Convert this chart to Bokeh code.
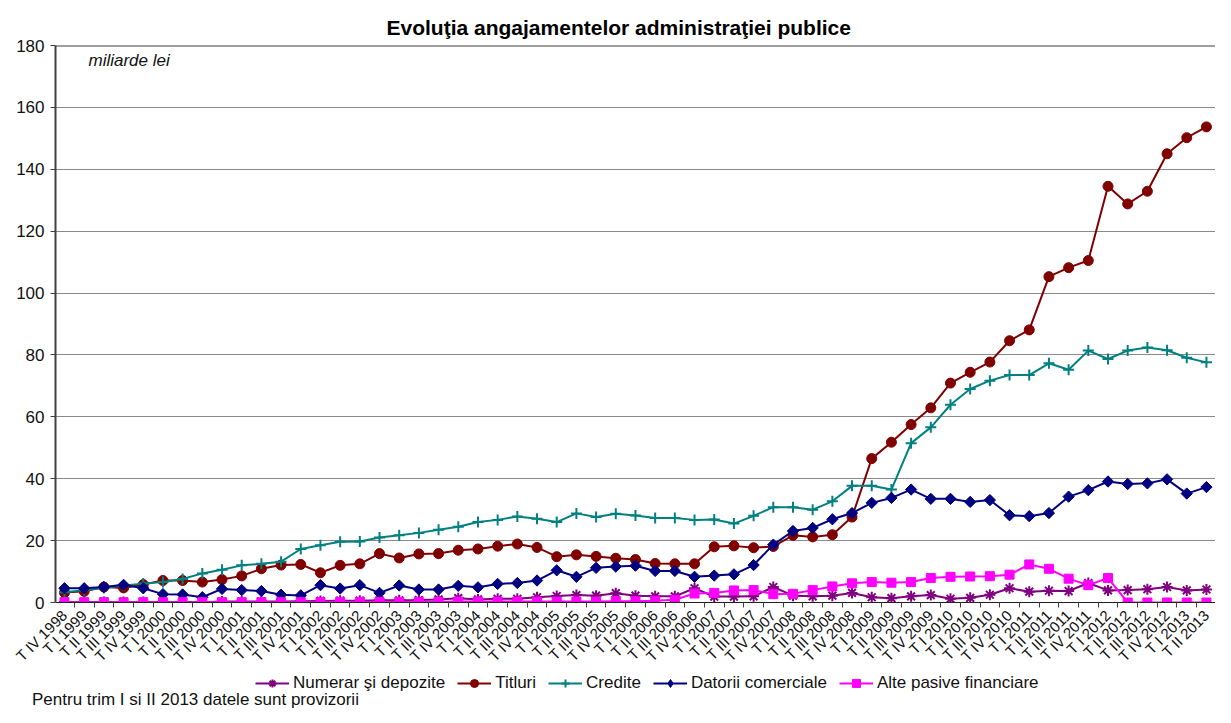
import math
from bokeh.plotting import figure
from bokeh.layouts import column
from bokeh.models import Range1d, FixedTicker, Label, Legend, LegendItem, Span, Div
from bokeh.embed import file_html
from bokeh.resources import INLINE

# ---- data ----
roman = ["I", "II", "III", "IV"]
quarters = ["T IV 1998"] + [f"T {r} {y}" for y in range(1999, 2013) for r in roman] + ["T I 2013", "T II 2013"]

numerar = [0.2, 0.2, 0.2, 0.2, 0.2, 0.2, 0.2, 0.1, 0.3, 0.3,
           0.3, 0.3, 0.4, 0.5, 0.6, 0.6, 0.7, 0.7, 0.8, 1.0,
           1.4, 1.0, 1.2, 1.2, 1.7, 2.1, 2.4, 2.2, 3.0, 2.2,
           2.0, 2.0, 4.6, 1.9, 1.9, 2.0, 5.0, 2.2, 2.0, 2.2,
           3.1, 1.7, 1.4, 2.0, 2.4, 1.2, 1.5, 2.5, 4.6, 3.5,
           3.8, 3.7, 6.3, 3.9, 4.0, 4.3, 5.0, 3.9, 4.2]

titluri = [3.2, 3.6, 5.0, 4.7, 5.8, 7.1, 7.1, 6.6, 7.4, 8.6,
           10.9, 12.1, 12.3, 9.6, 12.0, 12.5, 15.8, 14.4, 15.7, 15.8,
           16.9, 17.3, 18.2, 18.9, 17.8, 14.8, 15.4, 14.9, 14.3, 13.9,
           12.6, 12.5, 12.5, 18.0, 18.3, 17.7, 18.1, 21.7, 21.2, 21.9,
           27.6, 46.5, 51.8, 57.5, 62.9, 70.9, 74.4, 77.7, 84.6, 88.1,
           105.3, 108.2, 110.5, 134.5, 128.8, 132.9, 145.0, 150.2, 153.7]

credite = [3.3, 4.0, 4.7, 5.5, 6.1, 6.6, 7.6, 9.4, 10.6, 12.0,
           12.5, 13.2, 17.3, 18.5, 19.6, 19.7, 21.0, 21.7, 22.5, 23.5,
           24.5, 26.0, 26.7, 27.8, 27.1, 26.0, 28.8, 27.6, 28.7, 28.1,
           27.3, 27.3, 26.7, 26.8, 25.5, 28.0, 30.8, 30.8, 30.0, 32.7,
           37.7, 37.7, 36.5, 51.5, 56.6, 63.9, 69.0, 71.7, 73.5, 73.5,
           77.3, 75.2, 81.4, 78.7, 81.4, 82.4, 81.5, 79.1, 77.6]

datorii = [4.6, 4.6, 5.0, 5.7, 4.6, 2.7, 2.6, 1.7, 4.4, 4.0,
           3.7, 2.5, 2.3, 5.6, 4.5, 5.6, 3.1, 5.5, 4.2, 4.2,
           5.4, 4.9, 6.0, 6.3, 7.1, 10.4, 8.3, 11.2, 11.6, 11.9,
           10.2, 10.2, 8.3, 8.7, 9.1, 12.1, 18.7, 23.1, 24.1, 26.9,
           28.9, 32.2, 33.8, 36.5, 33.5, 33.5, 32.5, 33.1, 28.2, 27.9,
           28.9, 34.2, 36.3, 39.1, 38.3, 38.5, 39.8, 35.2, 37.3]

alte = [0.1, 0.1, 0.1, 0.1, 0.1, 0.1, 0.1, 0.1, 0.1, 0.1,
        0.1, 0.1, 0.1, 0.1, 0.2, 0.2, 0.2, 0.2, 0.2, 0.2,
        0.3, 0.3, 0.3, 0.3, 0.3, 0.3, 0.3, 0.3, 0.4, 0.4,
        0.6, 0.9, 2.9, 3.1, 3.9, 4.0, 2.7, 2.8, 4.0, 5.2,
        6.2, 6.6, 6.4, 6.6, 7.9, 8.3, 8.4, 8.5, 9.0, 12.3,
        10.9, 7.7, 5.6, 7.9, 0.0, 0.0, 0.0, 0.0, 0.0]

y_ticks = [0, 20, 40, 60, 80, 100, 120, 140, 160, 180]

x = list(range(len(quarters)))
FONT = "Liberation Sans"
W = 1215

series = [
    ("Numerar şi depozite", numerar, "#800080", "asterisk", 11, 0),
    ("Titluri", titluri, "#800000", "circle", 10, 0),
    ("Credite", credite, "#008080", "cross", 11, 0),
    ("Datorii comerciale", datorii, "#000080", "square", 8, math.pi / 4),
    ("Alte pasive financiare", alte, "#FF00FF", "square", 9, 0),
]


def add_series(fig, xs, ys, col, mk, sz, ang):
    rl = fig.line(xs, ys, line_color=col, line_width=2)
    if mk in ("asterisk", "cross"):
        rs = fig.scatter(xs, ys, marker=mk, size=sz, line_color=col, line_width=2)
    else:
        rs = fig.scatter(xs, ys, marker=mk, size=sz, angle=ang, fill_color=col, line_color=col, line_width=1)
    return rl, rs


# ---- main chart ----
p = figure(width=W, height=673, output_backend="svg", toolbar_location=None,
           x_range=Range1d(-0.457, 58.46), y_range=Range1d(0, 180),
           min_border_left=55, min_border_right=0, min_border_top=45, min_border_bottom=70)
p.outline_line_color = None
p.background_fill_color = "white"
p.border_fill_color = "white"

p.title.text = "Evoluţia angajamentelor administraţiei publice"
p.title.align = "left"
p.title.offset = 331
p.title.standoff = 14
p.title.text_font = FONT
p.title.text_font_size = "21px"
p.title.text_font_style = "bold"
p.title.text_color = "#000000"

p.xgrid.visible = False
p.ygrid.grid_line_color = "#8a8a8a"
p.ygrid.grid_line_width = 1

p.yaxis.ticker = FixedTicker(ticks=y_ticks)
p.yaxis.axis_line_color = "#404040"
p.yaxis.axis_line_width = 2
p.yaxis.major_tick_out = 5
p.yaxis.major_tick_in = 0
p.yaxis.minor_tick_line_color = None
p.yaxis.major_tick_line_color = "#404040"
p.yaxis.major_label_text_font = FONT
p.yaxis.major_label_text_font_size = "17px"
p.yaxis.major_label_text_color = "#111111"
p.yaxis.major_label_standoff = 6

p.xaxis.ticker = FixedTicker(ticks=x, minor_ticks=[i - 0.5 for i in range(len(quarters) + 1)])
p.xaxis.major_label_overrides = {i: q for i, q in enumerate(quarters)}
p.xaxis.major_label_orientation = math.pi / 4
p.xaxis.major_tick_out = 0
p.xaxis.major_tick_in = 0
p.xaxis.minor_tick_out = 5
p.xaxis.minor_tick_in = 0
p.xaxis.minor_tick_line_color = "#404040"
p.xaxis.axis_line_color = "#202020"
p.xaxis.axis_line_width = 1
p.xaxis.major_label_text_font = FONT
p.xaxis.major_label_text_font_size = "15px"
p.xaxis.major_label_text_color = "#111111"
p.xaxis.major_label_standoff = 5

p.add_layout(Span(location=180, dimension="width", line_color="#404040", line_width=2))

for name, vals, col, mk, sz, ang in series:
    add_series(p, x, vals, col, mk, sz, ang)

p.add_layout(Label(x=33, y=542, x_units="screen", y_units="screen",
                   text="miliarde lei", text_align="left", text_baseline="middle",
                   text_font=FONT, text_font_size="17px", text_font_style="italic", text_color="#111111"))

# ---- legend strip ----
LH = 20
lg = figure(width=W, height=LH, output_backend="svg", toolbar_location=None,
            x_range=Range1d(0, W), y_range=Range1d(0, LH),
            x_axis_location=None, y_axis_location=None,
            min_border_left=0, min_border_right=0, min_border_top=0, min_border_bottom=0)
lg.outline_line_color = None
lg.grid.visible = False
lg.background_fill_color = "white"
lg.border_fill_color = "white"

legend_series = [
    ("Numerar şi depozite", "#800080", "asterisk", 11),
    ("Titluri", "#800000", "circle", 10),
    ("Credite", "#008080", "cross", 11),
    ("Datorii comerciale", "#000080", "diamond", 13),
    ("Alte pasive financiare", "#FF00FF", "square", 9),
]
items = []
nan = [float("nan")]
for name, col, mk, sz in legend_series:
    rl, rs = add_series(lg, nan, nan, col, mk, sz, 0)
    items.append(LegendItem(label=name, renderers=[rl, rs]))

legend = Legend(items=items, orientation="horizontal", location=(200, 0),
                label_text_font=FONT, label_text_font_size="17px", label_text_color="#111111",
                border_line_color=None, background_fill_alpha=0,
                glyph_width=34, glyph_height=20, spacing=12, label_standoff=4,
                padding=0, margin=0)
lg.add_layout(legend, "center")

note = Div(text="Pentru trim I si II 2013 datele sunt provizorii", width=900, height=14,
           margin=(0, 0, 0, 32),
           styles={"font-family": "Liberation Sans", "font-size": "17px", "line-height": "14px",
                   "color": "#111111", "white-space": "nowrap"})

open("out.html", "w").write(file_html(column(p, lg, note), INLINE))
